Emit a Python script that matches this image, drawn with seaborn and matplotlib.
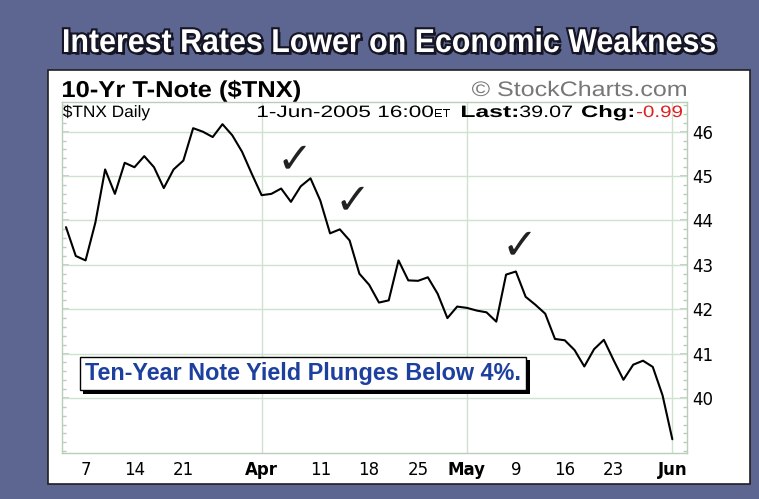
"""10-Yr T-Note ($TNX) daily chart, Mar-Jun 2005 (StockCharts style)."""

import numpy as np
import pandas as pd
import matplotlib.pyplot as plt
import matplotlib.patheffects as pe
from matplotlib.patches import Rectangle, PathPatch
from matplotlib.textpath import TextPath
from matplotlib.font_manager import FontProperties
from matplotlib.transforms import Affine2D
from matplotlib.ticker import MultipleLocator
import seaborn as sns

W, H = 759, 499

# trading days (CBOE closed Good Friday and Memorial Day)
HOLIDAYS = ["2005-03-25", "2005-05-30"]
dates = pd.bdate_range("2005-03-03", "2005-06-01")
dates = dates[~dates.isin(pd.to_datetime(HOLIDAYS))]

tnx_close = [
    43.85, 43.20, 43.10, 43.95, 45.15, 44.60, 45.30, 45.20, 45.45, 45.20,
    44.73, 45.15, 45.35, 46.08, 46.00, 45.88, 46.17, 45.92, 45.55, 45.05,
    44.57, 44.60, 44.72, 44.42, 44.77, 44.95, 44.45, 43.71, 43.80, 43.55,
    42.80, 42.55, 42.15, 42.20, 43.10, 42.65, 42.64, 42.72, 42.35, 41.80,
    42.06, 42.03, 41.97, 41.93, 41.72, 42.78, 42.85, 42.28, 42.10, 41.90,
    41.33, 41.30, 41.08, 40.71, 41.10, 41.31, 40.85, 40.41, 40.75, 40.84,
    40.70, 40.06, 39.07,
]

tick_dates = ["2005-03-07", "2005-03-14", "2005-03-21", "2005-04-01", "2005-04-11",
              "2005-04-18", "2005-04-25", "2005-05-02", "2005-05-09", "2005-05-16",
              "2005-05-23", "2005-06-01"]
tick_labels = ["7", "14", "21", "Apr", "11", "18", "25", "May", "9", "16", "23", "Jun"]
month_starts = ["2005-04-01", "2005-05-02", "2005-06-01"]
check_dates = ["2005-04-05", "2005-04-13", "2005-05-06"]
y_ticks = [40, 41, 42, 43, 44, 45, 46]

df = pd.DataFrame({"date": dates, "close": tnx_close})
df["idx"] = np.arange(len(df))
pos = dict(zip(df["date"], df["idx"]))

sns.set_theme(style="white")
plt.rcParams["font.family"] = ["DejaVu Sans"]

BG = "#5c6690"
GRID = "#cfe2cf"
FRAME = "#b9cdb9"


def px(x, y):
    return x / W, 1 - y / H


def fit_text(fig, s, x_left, x_right, baseline, size, color, weight="normal",
             family="Liberation Sans", effects=None):
    """Draw text as a path, stretched horizontally to span x_left..x_right (pixels)."""
    tp = TextPath((0, 0), s, size=size, prop=FontProperties(family=family, weight=weight))
    ext = tp.get_extents()
    sx = (x_right - x_left) / ext.width
    tr = Affine2D().translate(-ext.x0, 0).scale(sx, 1).translate(x_left, H - baseline)
    patch = PathPatch(tp, transform=tr, facecolor=color, edgecolor="none", zorder=3)
    if effects:
        patch.set_path_effects(effects)
    fig.add_artist(patch)


fig = plt.figure(figsize=(W / 100, H / 100), dpi=100, facecolor=BG)

# white panel
x0, y0 = px(48, 484)
x1, y1 = px(750, 70)
fig.add_artist(Rectangle((x0, y0), x1 - x0, y1 - y0, transform=fig.transFigure,
                         facecolor="white", edgecolor="#202020", lw=1.2, zorder=-5))

ax = fig.add_axes([62 / W, 1 - 453 / H, (687 - 62) / W, (453 - 102) / H])
ax.set_zorder(1)
ax.set_facecolor("white")

sns.lineplot(data=df, x="idx", y="close", ax=ax, color="black", lw=1.5, zorder=3)

ax.set_xlim(-0.41, 63.5)
ax.set_ylim(38.76, 46.67)

# grid
for v in y_ticks:
    ax.axhline(v, color=GRID, lw=1, zorder=1)
for d in month_starts:
    ax.axvline(pos[pd.Timestamp(d)], color=GRID, lw=1, zorder=1)

for s in ax.spines.values():
    s.set_color(FRAME)
    s.set_linewidth(1)

ax.yaxis.tick_right()
ax.set_yticks(y_ticks)
ax.set_yticklabels([str(v) for v in y_ticks])
ax.yaxis.set_minor_locator(MultipleLocator(0.2))
ax.tick_params(axis="y", which="both", direction="in", left=True, right=True,
               color=FRAME, labelsize=12, labelcolor="black", pad=4)
ax.tick_params(axis="y", which="major", length=5)
ax.tick_params(axis="y", which="minor", length=3)

ax.set_xticks([pos[pd.Timestamp(d)] for d in tick_dates])
ax.set_xticklabels(tick_labels)
ax.tick_params(axis="x", direction="out", length=3, color="#606060",
               labelsize=12, labelcolor="black", pad=3)
for lab in ax.get_xticklabels():
    if lab.get_text() in ("Apr", "May", "Jun"):
        lab.set_fontweight("bold")
ax.set_xlabel("")
ax.set_ylabel("")

# hand-drawn check marks
for d in check_dates:
    i = pos[pd.Timestamp(d)]
    ax.annotate("\u2713", xy=(i, df.loc[i, "close"]), xytext=(13, 28),
                textcoords="offset pixels", ha="center", va="center",
                fontsize=31, color="#222222", family="DejaVu Sans", zorder=4)

# callout box
box = ax.text(0.037, 0.2265, "Ten-Year Note Yield Plunges Below 4%.", transform=ax.transAxes,
              fontsize=16.8, fontweight="bold", color="#1d3f9e", va="center", ha="left",
              family="Liberation Sans",
              bbox=dict(boxstyle="square,pad=0.22", facecolor="white", edgecolor="black", lw=1),
              zorder=5)
box.get_bbox_patch().set_path_effects([
    pe.SimplePatchShadow(offset=(2.5, -2.5), shadow_rgbFace="black", alpha=1),
    pe.Normal()])

# title on slate band
fit_text(fig, "Interest Rates Lower on Economic Weakness", 64, 715, 52, 33, "white",
         weight="bold", effects=[pe.SimplePatchShadow(offset=(2, -2), shadow_rgbFace="#101018",
                                                      alpha=0.9),
                                 pe.withStroke(linewidth=3, foreground="#151525")])

# chart header
fit_text(fig, "10-Yr T-Note ($TNX)", 63, 300, 97, 23, "black", weight="bold")
fit_text(fig, "\u00a9 StockCharts.com", 472, 686, 96, 21, "#777777")
fit_text(fig, "$TNX Daily", 63, 150, 117, 16.5, "black")
fit_text(fig, "1-Jun-2005 16:00", 258, 433, 117, 16.5, "black")
fit_text(fig, "ET", 435, 450, 117, 11, "black")
fit_text(fig, "Last:", 462, 517, 117, 16.5, "black", weight="bold")
fit_text(fig, "39.07", 520, 572, 117, 16.5, "black")
fit_text(fig, "Chg:", 582, 633, 117, 16.5, "black", weight="bold")
fit_text(fig, "-0.99", 637, 682, 117, 16.5, "#e02020")

fig.savefig("out.png", dpi=100, facecolor=BG)
